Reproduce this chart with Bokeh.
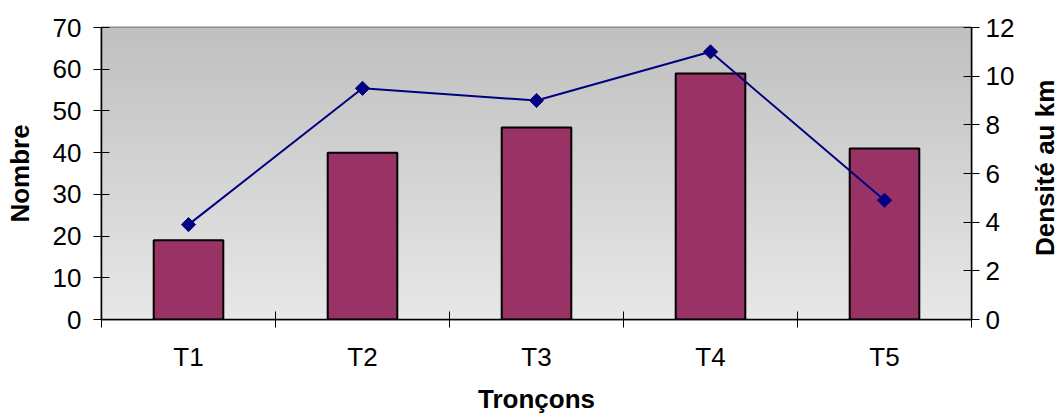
import numpy as np
from bokeh.plotting import figure
from bokeh.models import Range1d, LinearAxis, FixedTicker, Div
from bokeh.layouts import row
from bokeh.embed import file_html
from bokeh.resources import INLINE

categories = ["T1", "T2", "T3", "T4", "T5"]
nombre = [19, 40, 46, 59, 41]
densite = [3.9, 9.5, 9.0, 11.0, 4.9]
left_ticks = [0, 10, 20, 30, 40, 50, 60, 70]
right_ticks = [0, 2, 4, 6, 8, 10, 12]

FONT = "Liberation Sans"
xs = [i + 0.5 for i in range(len(categories))]

p = figure(frame_width=870, frame_height=292, output_backend="svg", toolbar_location=None,
           x_range=Range1d(0, len(categories)), y_range=Range1d(0, 70),
           min_border_left=101, min_border_right=59, min_border_top=27, min_border_bottom=94)
p.extra_y_ranges = {"dens": Range1d(0, 12)}
p.xaxis.visible = False
p.yaxis.visible = False
p.grid.visible = False
p.background_fill_color = "#d4d4d4"
p.border_fill_color = "white"
p.outline_line_color = "#808080"
p.outline_line_width = 2

# gradient background
n = 120
shades = np.linspace(232, 192, n).astype(np.uint32)
img = np.zeros((n, 1), dtype=np.uint32)
img[:, 0] = (255 << 24) | (shades << 16) | (shades << 8) | shades
p.image_rgba(image=[img], x=0, y=0, dw=len(categories), dh=70, level="image")

p.vbar(x=xs, top=nombre, width=0.4, fill_color="#993366", line_color="black", line_width=2)
p.line(x=xs, y=densite, y_range_name="dens", line_color="#000080", line_width=2)
p.scatter(x=xs, y=densite, y_range_name="dens", marker="square", angle=np.pi / 4, size=10,
          fill_color="#000080", line_color="#000080")

def style(ax):
    ax.axis_line_color = "black"
    ax.axis_line_width = 1.5
    ax.major_tick_line_color = "black"
    ax.major_tick_in = 8
    ax.major_tick_out = 8
    ax.minor_tick_line_color = None
    ax.major_label_text_font = FONT
    ax.major_label_text_font_size = "26px"
    ax.major_label_text_color = "black"
    ax.axis_label_text_font = FONT
    ax.axis_label_text_font_size = "26px"
    ax.axis_label_text_font_style = "bold"
    ax.axis_label_text_color = "black"

xa = LinearAxis(ticker=FixedTicker(ticks=xs, minor_ticks=list(range(len(categories) + 1))),
                axis_label="Tronçons")
style(xa)
xa.major_tick_in = 0
xa.major_tick_out = 0
xa.minor_tick_line_color = "black"
xa.minor_tick_in = 8
xa.minor_tick_out = 8
xa.major_label_overrides = {x: c for x, c in zip(xs, categories)}
xa.major_label_standoff = 14
xa.axis_label_standoff = 9
p.add_layout(xa, "below")

ya = LinearAxis(ticker=FixedTicker(ticks=left_ticks), axis_label="Nombre")
style(ya)
ya.major_label_standoff = 12
ya.axis_label_standoff = 15
p.add_layout(ya, "left")

yr = LinearAxis(y_range_name="dens", ticker=FixedTicker(ticks=right_ticks))
style(yr)
yr.major_label_standoff = 6
p.add_layout(yr, "right")

right_title = Div(
    text=('<div style="width:26px;height:178px;margin-top:78px;margin-left:2px;'
          'writing-mode:vertical-rl;transform:rotate(180deg);white-space:nowrap;'
          "font-family:'Liberation Sans';font-weight:bold;font-size:26px;line-height:26px;"
          'color:black;">Densité au km</div>'),
    width=29, height=413, margin=0)

layout = row(p, right_title, spacing=0)
open("out.html", "w").write(file_html(layout, INLINE))
